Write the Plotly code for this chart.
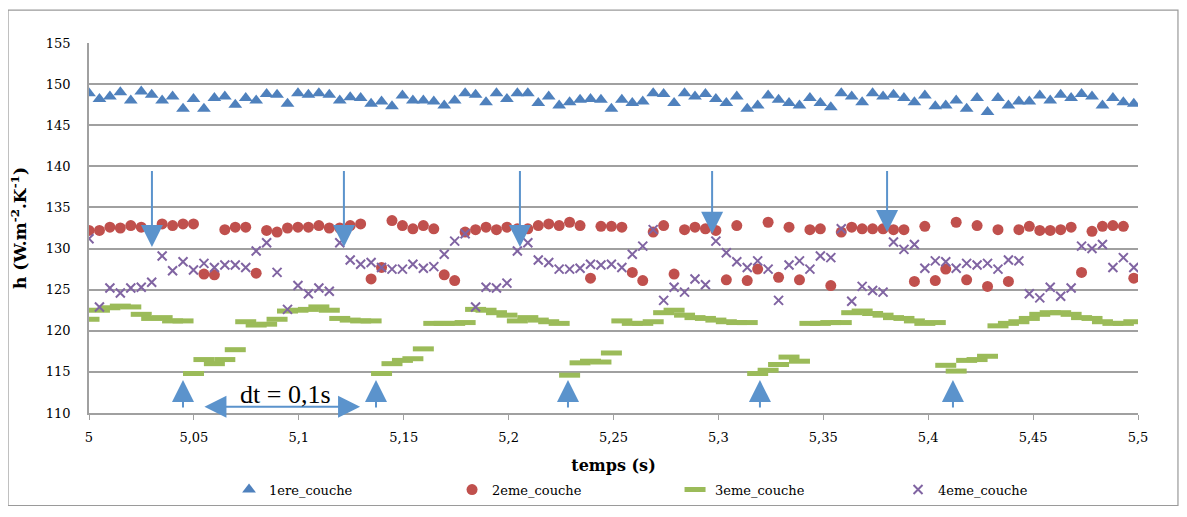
import plotly.graph_objects as go

# ---- data ----
t_start = 5.0
t_step = 0.00498
n_pts = 101
time_s = [round(t_start + i * t_step, 5) for i in range(n_pts)]

h_couche1 = [148.9, 148.2, 148.5, 149.0, 148.0, 149.1, 148.7, 148.0, 148.5, 147.0,
             148.2, 147.0, 148.3, 148.5, 147.5, 148.3, 148.0, 148.8, 148.7, 147.6,
             148.9, 148.7, 148.9, 148.7, 148.0, 148.4, 148.3, 147.6, 147.9, 147.3,
             148.6, 148.0, 148.0, 147.9, 147.4, 148.0, 148.9, 148.7, 147.8, 148.9,
             148.2, 148.9, 148.9, 147.7, 148.5, 147.4, 147.8, 148.1, 148.2, 148.1,
             147.0, 148.1, 147.7, 147.9, 148.9, 148.8, 147.7, 148.9, 148.5, 148.8,
             148.2, 147.7, 148.5, 147.0, 147.4, 148.6, 148.1, 147.7, 147.4, 148.3,
             147.7, 147.2, 148.9, 148.5, 147.8, 148.9, 148.5, 148.7, 148.3, 147.8,
             148.6, 147.3, 147.4, 148.0, 147.0, 148.3, 146.6, 148.3, 147.4, 147.9,
             147.9, 148.6, 148.0, 148.7, 148.3, 148.8, 148.5, 147.4, 148.3, 147.8,
             147.6]

h_couche2 = [132.2, 132.2, 132.6, 132.5, 132.8, 132.6, 132.2, 133.0, 132.8, 133.0,
             133.0, 126.9, 126.8, 132.3, 132.6, 132.6, 127.0, 132.2, 132.0, 132.5,
             132.6, 132.6, 132.8, 132.5, 132.5, 132.8, 133.0, 126.3, 127.7, 133.4,
             132.8, 132.4, 132.8, 132.4, 126.8, 126.1, 132.0, 132.3, 132.6, 132.3,
             132.6, 132.4, 132.4, 132.8, 133.0, 132.8, 133.2, 132.8, 126.4, 132.7,
             132.7, 132.6, 127.1, 126.1, 132.0, 132.8, 126.9, 132.3, 132.6, 132.4,
             132.2, 126.2, 132.8, 126.1, 127.5, 133.2, 126.5, 132.6, 126.2, 132.3,
             132.4, 125.5, 132.0, 132.6, 132.4, 132.4, 132.4, 132.3, 132.3, 126.0,
             132.7, 126.1, 127.5, 133.2, 126.2, 132.8, 125.4, 132.3, 126.0, 132.3,
             132.7, 132.2, 132.2, 132.3, 132.6, 127.1, 132.1, 132.7, 132.8, 132.7,
             126.4]

h_couche3 = [121.4, 122.5, 122.8, 123.0, 122.9, 122.0, 121.5, 121.6, 121.2, 121.2,
             114.8, 116.5, 116.0, 116.5, 117.7,
             121.1, 120.7, 120.8, 121.4, 122.4, 122.5, 122.6, 122.9, 122.5, 121.5, 121.3, 121.2, 121.2,
             114.8, 116.0, 116.4, 116.6, 117.8,
             120.9, 120.9, 120.9, 121.0, 122.6, 122.5, 122.2, 121.9, 121.2, 121.6, 121.3, 121.1, 120.9,
             114.6, 116.1, 116.3, 116.2, 117.3,
             121.2, 120.9, 120.9, 121.1, 122.2, 122.5, 121.9, 121.6, 121.5, 121.3, 121.1, 121.0, 121.0,
             114.8, 115.2, 115.9, 116.8, 116.3,
             120.9, 120.9, 121.0, 121.0, 122.2, 122.4, 122.1, 121.9, 121.6, 121.5, 121.2, 120.9, 121.0,
             115.8, 115.1, 116.4, 116.5, 116.9,
             120.6, 120.9, 121.1, 121.5, 122.0, 122.2, 122.2, 122.0, 121.6, 121.5, 121.1, 120.9, 120.9,
             121.1]

h_couche4 = [131.2, 122.9, 125.2, 124.6, 125.2, 125.3, 125.9, 129.1, 127.3, 128.4,
             127.4, 128.2, 127.7, 128.0, 128.0, 127.7, 129.7, 130.7, 127.1, 122.6,
             125.5, 124.5, 125.2, 124.8, 130.7, 128.6, 128.1, 128.3, 127.7, 127.5,
             127.5, 128.1, 127.6, 127.8, 129.3, 130.9, 131.8, 122.9, 125.3, 125.2,
             125.8, 129.7, 130.7, 128.6, 128.3, 127.5, 127.5, 127.6, 128.1, 128.0,
             128.1, 127.7, 129.3, 130.3, 132.3, 123.7, 125.3, 124.7, 126.3, 125.6,
             130.9, 129.5, 128.4, 127.7, 128.5, 127.5, 123.7, 128.0, 128.5, 127.5,
             129.1, 128.9, 132.4, 123.6, 125.4, 124.9, 124.7, 130.8, 129.9, 130.5,
             127.6, 128.5, 128.4, 127.6, 128.2, 128.0, 128.2, 127.5, 128.6, 128.5,
             124.5, 124.0, 125.3, 124.2, 125.2, 130.3, 130.0, 130.5, 127.7, 128.9,
             127.7]

series_names = ["1ere_couche", "2eme_couche", "3eme_couche", "4eme_couche"]

x_tickvals = [5.0, 5.05, 5.1, 5.15, 5.2, 5.25, 5.3, 5.35, 5.4, 5.45, 5.5]
x_ticktext = ["5", "5,05", "5,1", "5,15", "5,2", "5,25", "5,3", "5,35", "5,4", "5,45", "5,5"]
y_tickvals = [110, 115, 120, 125, 130, 135, 140, 145, 150, 155]

# annotation arrows (time positions)
down_arrow_t = [5.030, 5.1215, 5.2054, 5.297, 5.3804]
down_arrow_tip = [130.2, 130.2, 130.2, 131.8, 132.0]
down_arrow_top = 139.6
up_arrow_t = [5.0448, 5.1368, 5.2283, 5.3198, 5.4118]
up_arrow_tip = 114.0
up_arrow_base = 110.5
dt_arrow = (5.0543, 5.1292)
dt_arrow_y = 110.75
dt_label = "dt = 0,1s"

# ---- figure ----
FONT = "DejaVu Serif"
TFONT = "Liberation Serif"
ARROW_C = "#5B93CC"

fig = go.Figure()
fig.add_trace(go.Scatter(x=time_s, y=h_couche1, mode="markers", name=series_names[0],
                         marker=dict(symbol="triangle-up", size=12, color="#4F81BD")))
fig.add_trace(go.Scatter(x=time_s, y=h_couche2, mode="markers", name=series_names[1],
                         marker=dict(symbol="circle", size=11, color="#C0504D")))
fig.add_trace(go.Scatter(x=time_s, y=h_couche3, mode="markers", name=series_names[2],
                         marker=dict(symbol="line-ew", size=15,
                                     line=dict(width=5, color="#9BBB59"))))
fig.add_trace(go.Scatter(x=time_s, y=h_couche4, mode="markers", name=series_names[3],
                         marker=dict(symbol="x-thin", size=9,
                                     line=dict(width=2, color="#8064A2"))))

annotations = []
for t, tip in zip(down_arrow_t, down_arrow_tip):
    annotations.append(dict(x=t, y=tip, ax=t, ay=down_arrow_top, xref="x", yref="y",
                            axref="x", ayref="y", text="", showarrow=True,
                            arrowhead=2, arrowsize=2.2, arrowwidth=2, arrowcolor=ARROW_C))
for t in up_arrow_t:
    annotations.append(dict(x=t, y=up_arrow_tip, ax=t, ay=up_arrow_base, xref="x", yref="y",
                            axref="x", ayref="y", text="", showarrow=True,
                            arrowhead=2, arrowsize=2.2, arrowwidth=2, arrowcolor=ARROW_C))
annotations.append(dict(x=dt_arrow[1], y=dt_arrow_y, ax=dt_arrow[0], ay=dt_arrow_y,
                        xref="x", yref="y", axref="x", ayref="y", text="", showarrow=True,
                        arrowhead=2, arrowsize=2.2, arrowwidth=2, arrowcolor=ARROW_C,
                        arrowside="end+start"))
annotations.append(dict(x=5.0935, y=112.3, xref="x", yref="y",
                        text=dt_label, showarrow=False,
                        font=dict(family=TFONT, size=26, color="black")))

# page body has an 8px margin: figure is 8px smaller and margins shifted
fig.update_layout(
    width=1179, height=509,
    margin=dict(l=81, r=49, t=35, b=102),
    paper_bgcolor="white", plot_bgcolor="white",
    font=dict(family=FONT, size=13, color="black"),
    showlegend=True,
    legend=dict(orientation="h", x=0.1335, xanchor="left", y=-0.207, yanchor="middle",
                font=dict(family=FONT, size=13), entrywidth=178, itemwidth=30,
                bgcolor="rgba(0,0,0,0)"),
    annotations=annotations,
    shapes=[dict(type="rect", xref="paper", yref="paper",
                 x0=-0.0772, x1=1.0381, y0=-0.25, y1=1.0887,
                 line=dict(color="#9a9a9a", width=1.2), fillcolor="rgba(0,0,0,0)",
                 layer="below")],
)
fig.update_xaxes(range=[5.0, 5.5], tickvals=x_tickvals, ticktext=x_ticktext,
                 showgrid=False, zeroline=False, showline=True, linecolor="#a0a0a0",
                 linewidth=1.5, ticks="outside", ticklen=5, tickcolor="#a0a0a0",
                 ticklabelstandoff=7, automargin=False,
                 tickfont=dict(family=FONT, size=13),
                 title=dict(text="<b>temps (s)</b>", font=dict(family=FONT, size=16),
                            standoff=15))
fig.update_yaxes(range=[110, 155], tickvals=y_tickvals, automargin=False,
                 showgrid=True, gridcolor="#a0a0a0", gridwidth=1.5, zeroline=False,
                 showline=True, linecolor="#a0a0a0", linewidth=1.5, ticks="",
                 ticklabelstandoff=14, tickfont=dict(family=FONT, size=13),
                 title=dict(text="<b>h (W.m<sup>-2</sup>.K<sup>-1</sup>)</b>",
                            font=dict(family=FONT, size=17), standoff=16))

fig.write_html("out.html")
